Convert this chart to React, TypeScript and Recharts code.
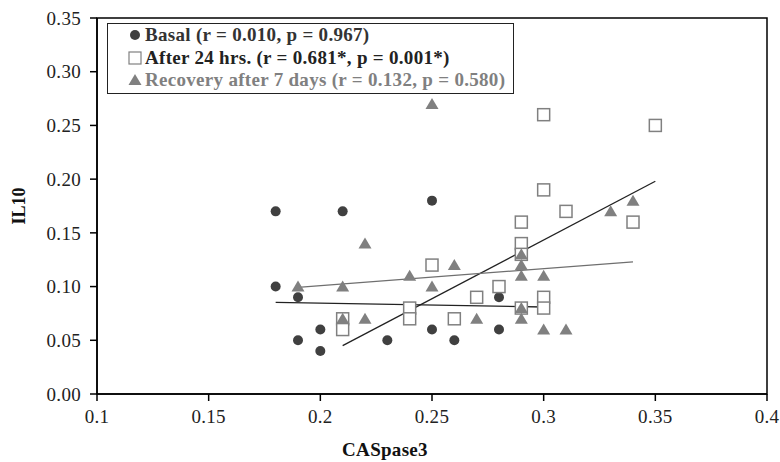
import {
  ScatterChart,
  Scatter,
  XAxis,
  YAxis,
  ReferenceLine,
  ReferenceArea,
  Legend,
  Label,
} from "recharts";

// CASpase3 (x) and IL10 (y) per group
const basalX = [0.18, 0.18, 0.19, 0.19, 0.2, 0.2, 0.21, 0.23, 0.25, 0.25, 0.26, 0.28, 0.28];
const basalY = [0.17, 0.1, 0.09, 0.05, 0.06, 0.04, 0.17, 0.05, 0.18, 0.06, 0.05, 0.09, 0.06];

const after24X = [0.21, 0.21, 0.24, 0.24, 0.25, 0.26, 0.27, 0.28, 0.29, 0.29, 0.29, 0.29, 0.3, 0.3, 0.3, 0.3, 0.31, 0.34, 0.35];
const after24Y = [0.07, 0.06, 0.08, 0.07, 0.12, 0.07, 0.09, 0.1, 0.16, 0.14, 0.13, 0.08, 0.26, 0.19, 0.09, 0.08, 0.17, 0.16, 0.25];

const recoveryX = [0.19, 0.21, 0.21, 0.22, 0.22, 0.24, 0.25, 0.25, 0.26, 0.27, 0.29, 0.29, 0.29, 0.29, 0.29, 0.3, 0.3, 0.31, 0.33, 0.34];
const recoveryY = [0.1, 0.1, 0.07, 0.14, 0.07, 0.11, 0.27, 0.1, 0.12, 0.07, 0.13, 0.12, 0.11, 0.08, 0.07, 0.11, 0.06, 0.06, 0.17, 0.18];

// trend line end points [x1, y1, x2, y2]
const basalTrend = [0.18, 0.0852, 0.3, 0.081];
const after24Trend = [0.21, 0.045, 0.35, 0.198];
const recoveryTrend = [0.19, 0.0993, 0.34, 0.123];

const xTicks = [0.1, 0.15, 0.2, 0.25, 0.3, 0.35, 0.4];
const yTicks = [0, 0.05, 0.1, 0.15, 0.2, 0.25, 0.3, 0.35];

const legendItems = [
  { key: "basal", text: "Basal (r = 0.010, p = 0.967)", color: "#333" },
  { key: "after", text: "After 24 hrs. (r = 0.681*, p = 0.001*)", color: "#222" },
  { key: "recovery", text: "Recovery after 7 days (r = 0.132, p = 0.580)", color: "#808080" },
];

const toPoints = (xs: number[], ys: number[]) => xs.map((x, i) => ({ x, y: ys[i] }));

const FONT = "'Liberation Serif', 'Times New Roman', serif";
const DARK = "#404040";
const GRAY = "#808080";

const Dot = (p: any) => <circle cx={p.cx} cy={p.cy} r={5} fill={DARK} />;
const Box = (p: any) => (
  <rect x={p.cx - 6} y={p.cy - 6} width={12} height={12} fill="#fff" stroke={GRAY} strokeWidth={1.5} />
);
const Tri = (p: any) => (
  <polygon points={`${p.cx},${p.cy - 6} ${p.cx + 6.5},${p.cy + 5} ${p.cx - 6.5},${p.cy + 5}`} fill={GRAY} />
);

const marker = (key: string) => {
  if (key === "basal") return <circle cx={8} cy={8} r={5} fill={DARK} />;
  if (key === "after") return <rect x={2} y={2} width={12} height={12} fill="#fff" stroke={GRAY} strokeWidth={1.2} />;
  return <polygon points="8,2 14.5,13 1.5,13" fill={GRAY} />;
};

const LegendBox = () => (
  <div
    style={{
      border: "1.5px solid #222",
      padding: "0px 8px 1px 19px",
      fontFamily: FONT,
      fontWeight: 700,
      fontSize: 19,
      letterSpacing: 0.3,
      lineHeight: "22.5px",
      background: "#fff",
      whiteSpace: "nowrap",
    }}
  >
    {legendItems.map((it) => (
      <div key={it.key} style={{ color: it.color, display: "flex", alignItems: "center" }}>
        <svg width={16} height={16} style={{ marginRight: 2 }}>
          {marker(it.key)}
        </svg>
        {it.text}
      </div>
    ))}
  </div>
);

const trendSeg = (t: number[]) => [
  { x: t[0], y: t[1] },
  { x: t[2], y: t[3] },
];

const tickStyle = { fill: "#222", fontSize: 19, fontFamily: FONT, letterSpacing: 0.3 };

export default function App() {
  return (
    <div style={{ position: "absolute", left: 0, top: 0, background: "#fff" }}>
      <ScatterChart width={780} height={462} margin={{ top: 18, right: 13, bottom: 0, left: 0 }}>
        <ReferenceArea x1={0.1} x2={0.4} y1={0} y2={0.35} fill="none" stroke="#000" strokeWidth={1.5} />
        <XAxis
          type="number"
          dataKey="x"
          domain={[0.1, 0.4]}
          ticks={xTicks}
          height={68}
          tickSize={7}
          tickMargin={9}
          stroke="#000"
          strokeWidth={1.5}
          tick={tickStyle}
        >
          <Label
            content={({ viewBox }: any) => (
              <text
                x={385}
                y={viewBox.y + 62}
                textAnchor="middle"
                fontFamily={FONT}
                fontWeight={700}
                fontSize={19}
                letterSpacing={0.3}
                fill="#111"
              >
                CASpase3
              </text>
            )}
          />
        </XAxis>
        <YAxis
          type="number"
          dataKey="y"
          domain={[0, 0.35]}
          ticks={yTicks}
          width={97}
          tickSize={7}
          tickMargin={9}
          stroke="#000"
          strokeWidth={1.5}
          tickFormatter={(v: number) => v.toFixed(2)}
          tick={tickStyle}
        >
          <Label
            content={({ viewBox }: any) => {
              const cx = viewBox.x + 19;
              const cy = viewBox.y + viewBox.height / 2;
              return (
                <text
                  x={cx}
                  y={cy}
                  transform={`rotate(-90 ${cx} ${cy})`}
                  textAnchor="middle"
                  dominantBaseline="central"
                  fontFamily={FONT}
                  fontWeight={700}
                  fontSize={18}
                  fill="#111"
                >
                  IL10
                </text>
              );
            }}
          />
        </YAxis>
        <Legend
          layout="horizontal"
          verticalAlign="middle"
          wrapperStyle={{ top: 23, left: 107, width: "auto" }}
          content={() => <LegendBox />}
        />
        <Scatter name="Basal" data={toPoints(basalX, basalY)} shape={Dot} isAnimationActive={false} />
        <Scatter name="After 24 hrs." data={toPoints(after24X, after24Y)} shape={Box} isAnimationActive={false} />
        <Scatter name="Recovery after 7 days" data={toPoints(recoveryX, recoveryY)} shape={Tri} isAnimationActive={false} />
        <ReferenceLine segment={trendSeg(basalTrend)} stroke="#222" strokeWidth={1.3} />
        <ReferenceLine segment={trendSeg(after24Trend)} stroke="#222" strokeWidth={1.3} />
        <ReferenceLine segment={trendSeg(recoveryTrend)} stroke="#6f6f6f" strokeWidth={1.3} />
      </ScatterChart>
    </div>
  );
}
